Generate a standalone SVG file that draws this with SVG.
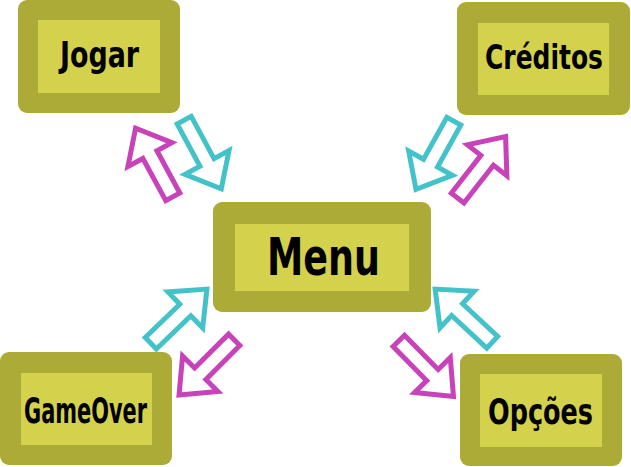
<svg xmlns="http://www.w3.org/2000/svg" width="631" height="467" viewBox="0 0 631 467">
<defs>
<style>
.outer{fill:#adab37}
.inner{fill:#d4d24c}
.lbl{font-family:"Liberation Sans Narrow","DejaVu Sans Condensed",sans-serif;font-weight:bold;fill:#000}
.mag{fill:#fff;stroke:#c843b9;stroke-width:5;stroke-linejoin:miter}
.cya{fill:#fff;stroke:#43c3c9;stroke-width:5;stroke-linejoin:miter}
</style>
<path id="arr" d="M0,-8 L48,-8 L48,-25 L78,0 L48,25 L48,8 L0,8 Z"/>
</defs>
<rect width="631" height="467" fill="#fff"/>
<g id="connectors">
<use href="#arr" class="mag" transform="translate(172.8,196.8) rotate(-118.5)"/>
<use href="#arr" class="cya" transform="translate(184.2,120.2) rotate(61.6)"/>
<use href="#arr" class="cya" transform="translate(453.8,121.2) rotate(119)"/>
<use href="#arr" class="mag" transform="translate(457.6,198.1) rotate(-52)"/>
<use href="#arr" class="cya" transform="translate(150.8,343.3) rotate(-44)"/>
<use href="#arr" class="mag" transform="translate(234.2,339.8) rotate(135)"/>
<use href="#arr" class="cya" transform="translate(492.2,342.3) rotate(-137)"/>
<use href="#arr" class="mag" transform="translate(398.8,340.8) rotate(45.5)"/>
</g>
<g id="jogar">
<rect class="outer" x="18" y="0" width="162" height="113" rx="9"/>
<rect class="inner" x="38" y="20" width="122" height="73"/>
<text class="lbl" x="60" y="67" font-size="36" textLength="79" lengthAdjust="spacingAndGlyphs">Jogar</text>
</g>
<g id="creditos">
<rect class="outer" x="457" y="2" width="173" height="113" rx="9"/>
<rect class="inner" x="478" y="23" width="131" height="72"/>
<text class="lbl" x="485" y="69" font-size="33" textLength="118" lengthAdjust="spacingAndGlyphs">Créditos</text>
</g>
<g id="menu">
<rect class="outer" x="213" y="202" width="218" height="110" rx="9"/>
<rect class="inner" x="235" y="224" width="174" height="67"/>
<text class="lbl" x="267" y="275" font-size="52" textLength="113" lengthAdjust="spacingAndGlyphs">Menu</text>
</g>
<g id="gameover">
<rect class="outer" x="0" y="352" width="172" height="113" rx="9"/>
<rect class="inner" x="21" y="373" width="131" height="72"/>
<text class="lbl" x="24" y="423" font-size="36" textLength="123" lengthAdjust="spacingAndGlyphs">GameOver</text>
</g>
<g id="opcoes">
<rect class="outer" x="460" y="354" width="162" height="112" rx="9"/>
<rect class="inner" x="480" y="374" width="122" height="73"/>
<text class="lbl" x="488" y="424" font-size="36" textLength="105" lengthAdjust="spacingAndGlyphs">Opções</text>
</g>
</svg>
